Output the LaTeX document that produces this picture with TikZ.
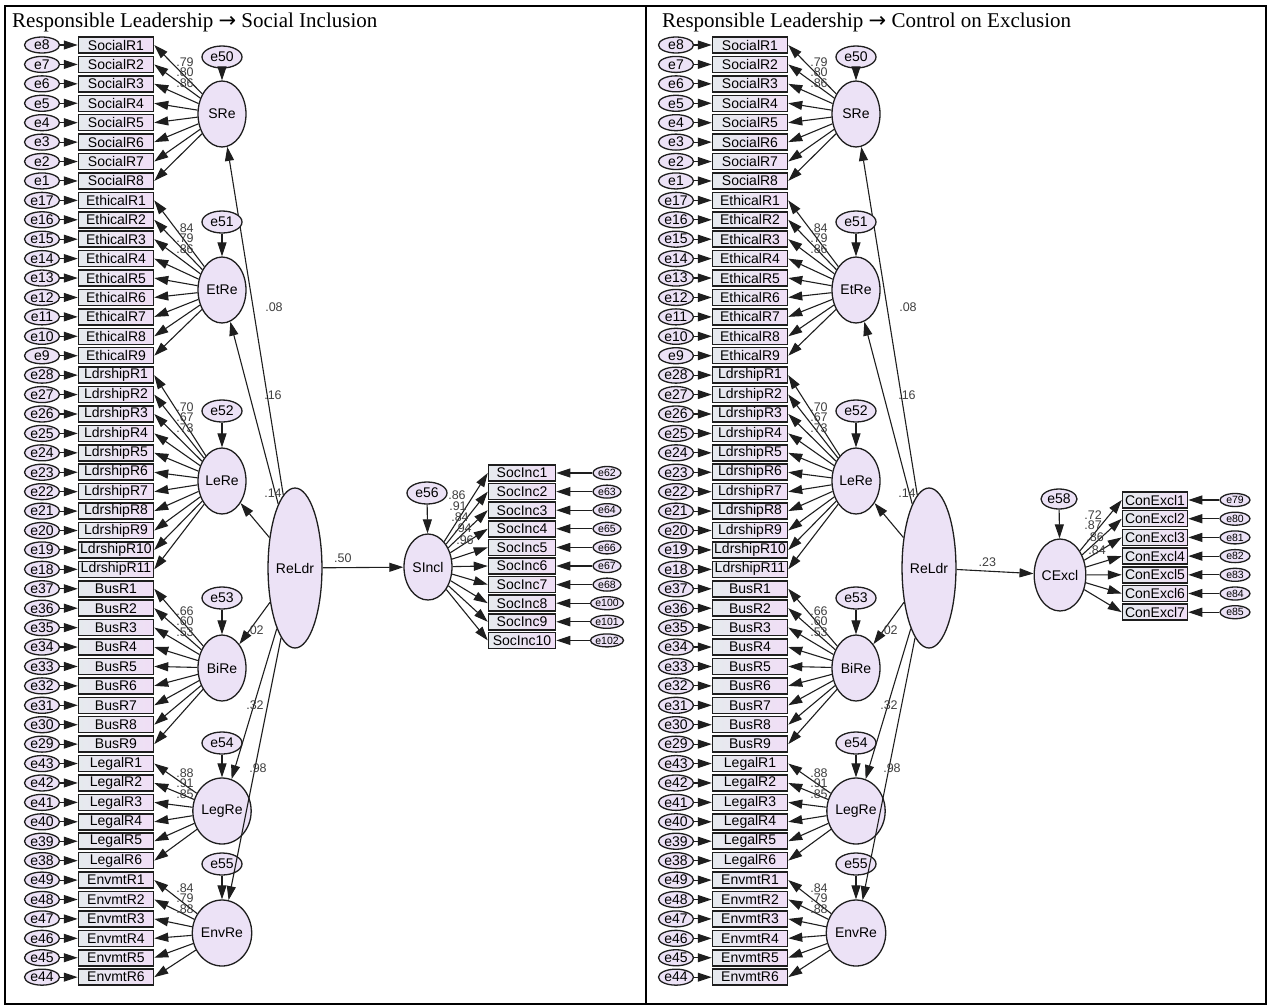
\documentclass[tikz,border=0pt]{standalone}
\usepackage{fontspec}
\setmainfont{Liberation Serif}
\setsansfont{Liberation Sans}
\newfontfamily\arrowfont{DejaVu Sans}
\usepackage{xcolor}
\usetikzlibrary{arrows.meta, shapes.geometric, calc}
\definecolor{amosline}{RGB}{30, 30, 30}
\definecolor{latfill}{RGB}{236, 226, 246}
\definecolor{boxleft}{RGB}{230, 234, 238}
\definecolor{boxright}{RGB}{240, 222, 246}

\begin{document}
\begin{tikzpicture}[
  x=1pt, y=-1pt,
  font=\sffamily\fontsize{14}{16}\selectfont,
  obs/.style={rectangle, draw=amosline, line width=1.5pt, left color=boxleft, right color=boxright,
              minimum width=75pt, minimum height=16pt, inner sep=0pt},
  obsout/.style={obs, minimum width=67pt},
  errs/.style={ellipse, draw=amosline, line width=1.3pt, fill=latfill, minimum width=35pt,
               minimum height=16pt, inner sep=0pt},
  errbig/.style={errs, minimum width=40pt, minimum height=22pt},
  errsm/.style={errs, minimum width=28pt, minimum height=13pt, font=\sffamily\fontsize{10.5}{12}\selectfont},
  lat/.style={ellipse, draw=amosline, line width=1.3pt, fill=latfill, minimum width=48pt,
              minimum height=66pt, inner sep=0pt},
  load/.style={font=\sffamily\fontsize{12.5}{13}\selectfont, inner sep=0pt, text=black!75},
  arr/.style={-{Triangle[length=14pt, width=9pt]}, line width=1.1pt, amosline},
  title/.style={font=\rmfamily\fontsize{21}{24}\selectfont, anchor=west, inner sep=0pt}
]
\useasboundingbox (0,0) rectangle (1271,1007);
\draw[line width=1.5pt] (5,6) rectangle (1266,1004);
\draw[line width=1.5pt] (646,6) -- (646,1004);

\node[title] (tL) at (12,22) {Responsible Leadership {\arrowfont→} Social Inclusion};
\node[title] (tR) at (662,22) {Responsible Leadership {\arrowfont→} Control on Exclusion};

% responsible leadership part, same in both panels
\foreach \p/\dx in {L/0, R/634} {
  \begin{scope}[xshift=\dx pt]
    \node[lat, minimum width=50pt, minimum height=160pt] (\p-ReLdr) at (295,568) {ReLdr};
    \foreach \f/\fy/\en/\ey in {SRe/114/50/57, EtRe/290/51/222, LeRe/481/52/411,
                                BiRe/668/53/598, LegRe/811/54/743, EnvRe/933/55/864} {
      \node[lat] (\p-\f) at (222,\fy) {\f};
      \node[errbig] (\p-e\en) at (222,\ey) {e\en};
      \draw[arr] (\p-e\en) -- (\p-\f);
      \draw[arr] (\p-ReLdr) -- (\p-\f);
    }
    \foreach \grp/\f/\first/\n in {SocialR/SRe/1/8, EthicalR/EtRe/9/9, LdrshipR/LeRe/18/11,
                                   BusR/BiRe/29/9, LegalR/LegRe/38/6, EnvmtR/EnvRe/44/6} {
      \foreach \kk in {1,...,\n} {
        \pgfmathtruncatemacro{\row}{\first+\kk-1}
        \pgfmathtruncatemacro{\eno}{\first+\n-\kk}
        \node[obs] (\p-ind\row) at (116,{45+19.42*(\row-1)}) {\grp\kk};
        \node[errs] (\p-err\row) at (42,{45+19.42*(\row-1)}) {e\eno};
        \draw[arr] (\p-err\row) -- (\p-ind\row);
        \draw[arr] (\p-\f) -- (\p-ind\row.east);
      }
    }
    % loadings that can be read
    \foreach \f/\ly/\lone/\ltwo/\lthree in {SRe/62/79/80/86, EtRe/228/84/79/86, LeRe/407/70/67/73,
                                            BiRe/611/66/60/53, LegRe/773/88/91/85, EnvRe/888/84/79/88} {
      \node[load] (\p-\f-a) at (185,\ly) {.\lone};
      \node[load] (\p-\f-b) at (185,\ly+10.5) {.\ltwo};
      \node[load] (\p-\f-c) at (185,\ly+21) {.\lthree};
    }
    % structural weights
    \node[load] (\p-w1) at (274,307) {.08};
    \node[load] (\p-w2) at (273,395) {.16};
    \node[load] (\p-w3) at (273,493) {.14};
    \node[load] (\p-w4) at (255,630) {.02};
    \node[load] (\p-w5) at (255,705) {.32};
    \node[load] (\p-w6) at (258,768) {.98};
  \end{scope}
}

% social inclusion
\node[lat] (SIncl) at (428,567) {SIncl};
\node[errbig] (e56) at (427,493) {e56};
\draw[arr] (e56) -- (SIncl);
\draw[arr] (L-ReLdr) -- node[load, above=4pt, pos=0.25] (wS) {.50} (SIncl);
\foreach \i/\eno in {1/62, 2/63, 3/64, 4/65, 5/66, 6/67, 7/68, 8/100, 9/101, 10/102} {
  \node[obsout] (soc\i) at (522,{473+18.6*(\i-1)}) {SocInc\i};
  \node[errsm] (soce\i) at (607,{473+18.6*(\i-1)}) {e\eno};
  \draw[arr] (soce\i) -- (soc\i);
  \draw[arr] (SIncl) -- (soc\i.west);
}
\foreach \v/\lx/\ly in {86/457/495, 91/458/506, 84/460/517, 94/463/528, 96/465/540}
  \node[load] (ls\v) at (\lx,\ly) {.\v};

% control on exclusion
\node[lat, minimum height=72pt] (CExcl) at (1060,575) {CExcl};
\node[errs, minimum width=36pt, minimum height=20pt] (e58) at (1059,499) {e58};
\draw[arr] (e58) -- (CExcl);
\draw[arr] (R-ReLdr) -- node[load, above=4pt, pos=0.4] (wC) {.23} (CExcl);
\foreach \i/\eno in {1/79, 2/80, 3/81, 4/82, 5/83, 6/84, 7/85} {
  \node[obsout, minimum width=65pt] (cex\i) at (1155,{500+18.7*(\i-1)}) {ConExcl\i};
  \node[errsm, minimum width=30pt] (cexe\i) at (1235,{500+18.7*(\i-1)}) {e\eno};
  \draw[arr] (cexe\i) -- (cex\i);
  \draw[arr] (CExcl) -- (cex\i.west);
}
\foreach \v/\lx/\ly in {72/1093/515, 87/1093/525, 86/1095/537, 84/1097/550}
  \node[load] (lc\v) at (\lx,\ly) {.\v};
\end{tikzpicture}
\end{document}
